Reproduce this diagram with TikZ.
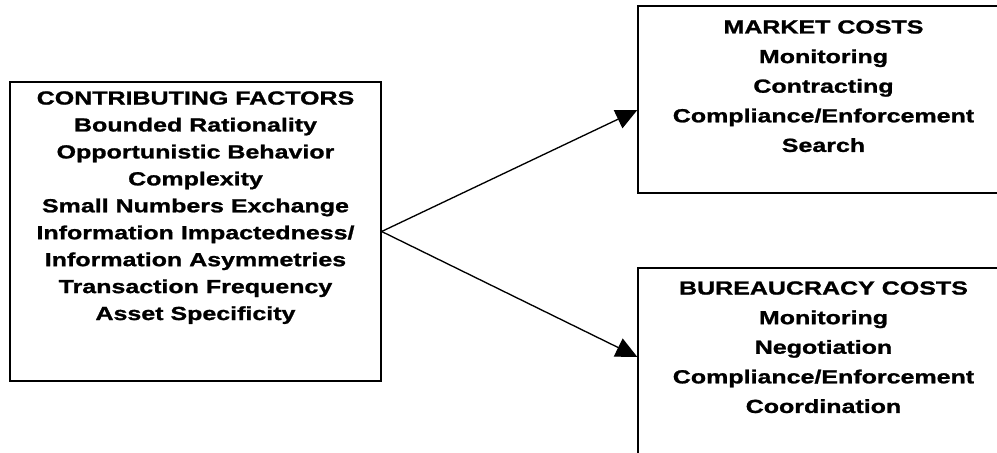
\documentclass[tikz,border=0pt]{standalone}
\usepackage{fontspec}
\setmainfont{Liberation Sans}[FakeStretch=1.32, BoldFeatures={FakeBold=1.2}]
\usepackage{xcolor}
\usetikzlibrary{positioning,arrows.meta}

\begin{document}
\begin{tikzpicture}[
            x=0.75pt, y=-0.75pt,
            box/.style={rectangle, draw, line width=1pt, inner sep=0pt, minimum width=278.25pt},
            txtl/.style={align=center, inner sep=0pt, font=\bfseries\fontsize{14.2}{20.2}\selectfont},
            txtr/.style={align=center, inner sep=0pt, font=\bfseries\fontsize{14.2}{22.2}\selectfont},
            arr/.style={-{Triangle[length=16pt,width=15pt]}, line width=1pt}
        ]
            \useasboundingbox (0,0) rectangle (997,453);
            \clip (0,0) rectangle (997,453);
            % Boxes
            \node[box, minimum height=224.25pt] (factors) at (195.5,231.5) {};
            \node[box, minimum height=140.25pt] (market) at (823.5,99.5) {};
            \node[box, minimum height=144pt] (bureau) at (823.5,364) {};
            % Texts
            \node[txtl, anchor=north] (factorstxt) at ([yshift=-7.3pt]factors.north) {CONTRIBUTING FACTORS\\Bounded Rationality\\Opportunistic Behavior\\Complexity\\Small Numbers Exchange\\Information Impactedness/\\Information Asymmetries\\Transaction Frequency\\Asset Specificity};
            \node[txtr, anchor=north] (markettxt) at ([yshift=-11pt]market.north) {MARKET COSTS\\Monitoring\\Contracting\\Compliance/Enforcement\\Search};
            \node[txtr, anchor=north] (bureautxt) at ([yshift=-10.3pt]bureau.north) {BUREAUCRACY COSTS\\Monitoring\\Negotiation\\Compliance/Enforcement\\Coordination};
            % Edges
            \draw[arr] (factors.east) -- ([yshift=-7.9pt]market.west);
            \draw[arr] (factors.east) -- ([yshift=5.3pt]bureau.west);
        \end{tikzpicture}
\end{document}
